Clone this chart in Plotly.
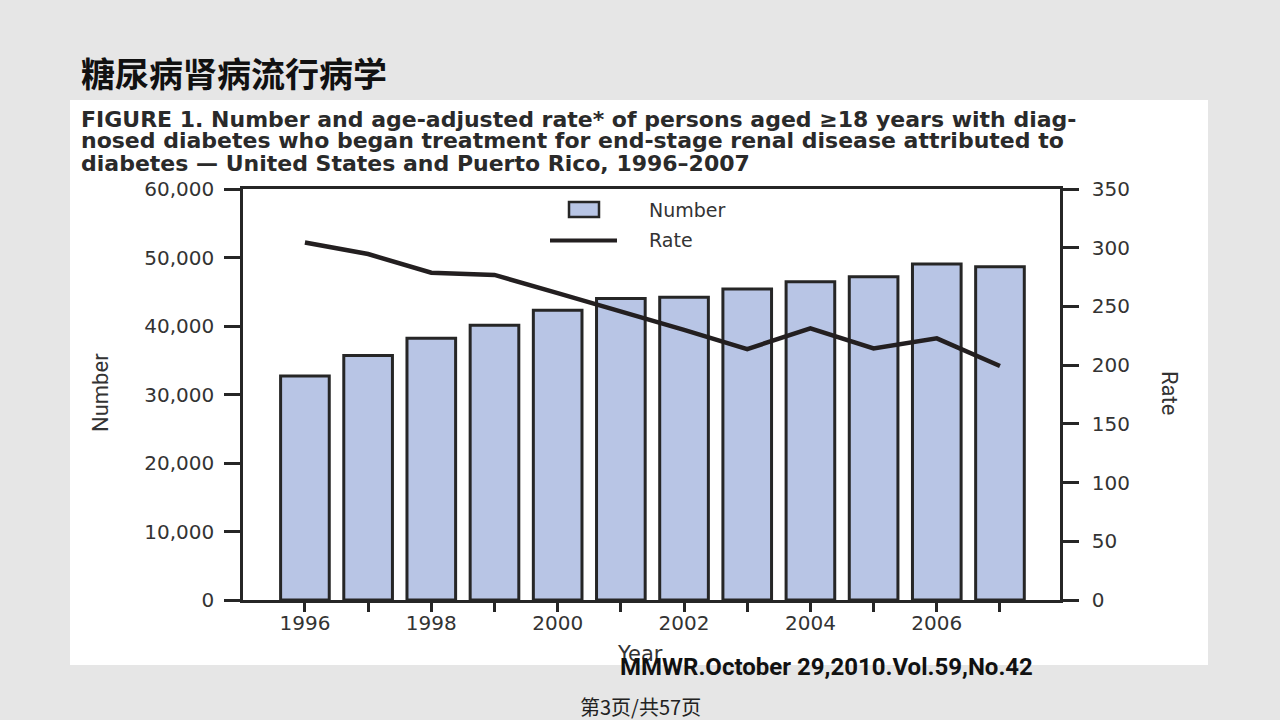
import plotly.graph_objects as go

# ---- data ----
years = [1996, 1997, 1998, 1999, 2000, 2001, 2002, 2003, 2004, 2005, 2006, 2007]
number = [32700, 35700, 38200, 40100, 42300, 44000, 44200, 45400, 46450, 47200, 49050, 48650]
rate = [304.5, 294.6, 278.7, 276.8, 261.4, 246.0, 230.0, 213.7, 231.4, 214.3, 222.8, 199.3]
x_tick_labels = ["1996", "", "1998", "", "2000", "", "2002", "", "2004", "", "2006", ""]
y_left_ticks = [0, 10000, 20000, 30000, 40000, 50000, 60000]
y_right_ticks = [0, 50, 100, 150, 200, 250, 300, 350]

title_cn = "糖尿病肾病流行病学"
caption_lines = [
    "FIGURE 1. Number and age-adjusted rate* of persons aged ≥18 years with diag-",
    "nosed diabetes who began treatment for end-stage renal disease attributed to",
    "diabetes — United States and Puerto Rico, 1996–2007",
]
source_text = "MMWR.October 29,2010.Vol.59,No.42"
page_text = "第3页/共57页"

# ---- layout geometry (pixels) ----
W, H = 1280, 720
L, R, T, B = 243, 1060, 189, 600
PW, PH = R - L, B - T


def X(px):
    return (px - L) / PW


def Y(py):
    return (B - py) / PH


BG = "#e6e6e6"
BAR_FILL = "#b8c5e5"
DARK = "#262626"
TXT = "#333333"
TICKFONT = dict(family="DejaVu Sans", size=20, color=TXT)

fig = go.Figure()
fig.add_trace(go.Bar(
    x=years, y=number, name="Number", width=0.77,
    marker=dict(color=BAR_FILL, line=dict(color=DARK, width=3)),
    yaxis="y",
))
fig.add_trace(go.Scatter(
    x=years, y=rate, name="Rate", mode="lines",
    line=dict(color="#231f20", width=4.5),
    yaxis="y2",
))

shapes = [
    # white panel behind the figure
    dict(type="rect", xref="paper", yref="paper", layer="below",
         x0=X(70), x1=X(1208), y0=Y(665), y1=Y(100),
         fillcolor="white", line=dict(width=0)),
    # legend: box and line
    dict(type="rect", xref="paper", yref="paper",
         x0=X(569), x1=X(599), y0=Y(217), y1=Y(202),
         fillcolor=BAR_FILL, line=dict(color=DARK, width=2.5)),
    dict(type="line", xref="paper", yref="paper",
         x0=X(550), x1=X(617), y0=Y(240.5), y1=Y(240.5),
         line=dict(color="#231f20", width=4)),
]

annotations = [
    dict(text=title_cn, xref="paper", yref="paper", x=X(79), y=Y(72),
         xanchor="left", yanchor="middle", showarrow=False,
         font=dict(family="Noto Sans CJK SC", size=34, color="#111111", weight="bold")),
    dict(text="Number", xref="paper", yref="paper", x=X(647), y=Y(210),
         xanchor="left", yanchor="middle", showarrow=False,
         font=dict(family="DejaVu Sans", size=19, color=TXT)),
    dict(text="Rate", xref="paper", yref="paper", x=X(647), y=Y(240),
         xanchor="left", yanchor="middle", showarrow=False,
         font=dict(family="DejaVu Sans", size=19, color=TXT)),
    dict(text="Number", xref="paper", yref="paper", x=X(100), y=Y(393),
         xanchor="center", yanchor="middle", showarrow=False, textangle=-90,
         font=dict(family="Roboto", size=22, color=TXT)),
    dict(text="Rate", xref="paper", yref="paper", x=X(1170), y=Y(393),
         xanchor="center", yanchor="middle", showarrow=False, textangle=90,
         font=dict(family="Roboto", size=22, color=TXT)),
    dict(text="Year", xref="paper", yref="paper", x=X(640), y=Y(654),
         xanchor="center", yanchor="middle", showarrow=False,
         font=dict(family="DejaVu Sans", size=21, color=TXT)),
    # slide background strip that cuts off the lower part of "Year", as in the source
    dict(text=" ", xref="paper", yref="paper", x=X(640), y=Y(665),
         xanchor="center", yanchor="top", showarrow=False,
         width=110, height=22, bgcolor=BG, borderpad=0,
         font=dict(family="DejaVu Sans", size=10, color=BG)),
    dict(text=source_text, xref="paper", yref="paper", x=X(826), y=Y(667),
         xanchor="center", yanchor="middle", showarrow=False,
         font=dict(family="Roboto", size=24, color="#111111", weight="bold")),
    dict(text=page_text, xref="paper", yref="paper", x=X(640), y=Y(706),
         xanchor="center", yanchor="middle", showarrow=False,
         font=dict(family="Noto Sans CJK SC", size=20, color="#222222")),
]
for line, cy in zip(caption_lines, [119, 141, 163]):
    annotations.append(dict(
        text=line, xref="paper", yref="paper", x=X(79), y=Y(cy),
        xanchor="left", yanchor="middle", showarrow=False,
        font=dict(family="DejaVu Sans", size=22, color="#2a2a2a", weight="bold"),
    ))

fig.update_layout(
    width=W, height=H,
    margin=dict(l=L, r=W - R, t=T, b=H - B, pad=0),
    paper_bgcolor=BG,
    plot_bgcolor="white",
    showlegend=False,
    xaxis=dict(
        range=[1995.02, 2007.95],
        tickmode="array", tickvals=years, ticktext=x_tick_labels,
        ticks="outside", ticklen=9, tickwidth=2.5, tickcolor=DARK,
        showline=True, linecolor=DARK, linewidth=2.5, mirror=True,
        showgrid=False, zeroline=False, tickfont=TICKFONT,
        ticklabelstandoff=-6,
    ),
    yaxis=dict(
        range=[0, 60000],
        tickmode="array", tickvals=y_left_ticks,
        ticktext=[f"{v:,}" for v in y_left_ticks],
        ticks="outside", ticklen=16, tickwidth=2.5, tickcolor=DARK,
        showline=True, linecolor=DARK, linewidth=2.5,
        showgrid=False, zeroline=False, tickfont=TICKFONT,
        ticklabelstandoff=6,
    ),
    yaxis2=dict(
        range=[0, 350], overlaying="y", side="right",
        tickmode="array", tickvals=y_right_ticks,
        ticks="outside", ticklen=16, tickwidth=2.5, tickcolor=DARK,
        showline=True, linecolor=DARK, linewidth=2.5,
        showgrid=False, zeroline=False, tickfont=TICKFONT,
        ticklabelstandoff=9,
    ),
    shapes=shapes,
    annotations=annotations,
)

fig.write_html("out.html", config={"displayModeBar": False},
               post_script="document.body.style.margin='0';")
